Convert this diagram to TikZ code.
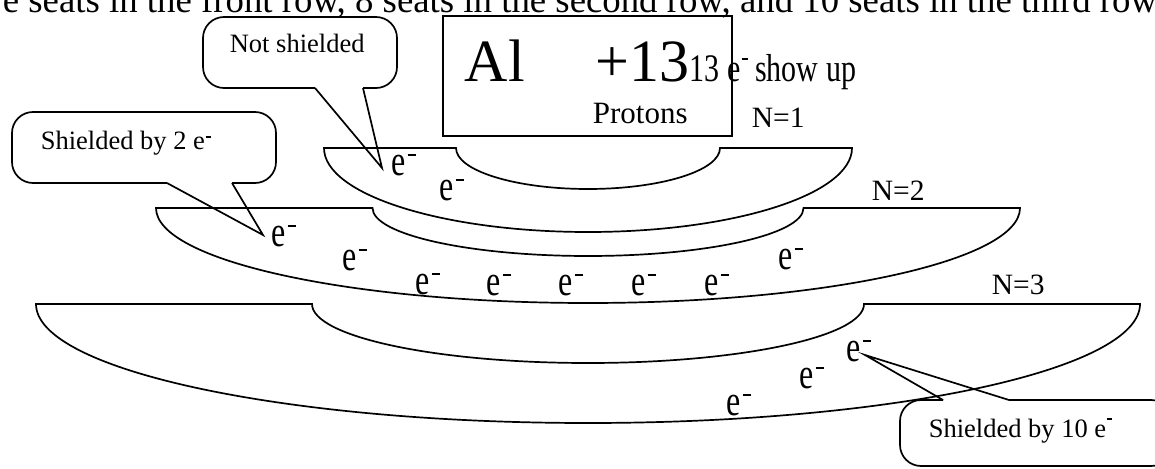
\documentclass[tikz,border=0pt]{standalone}
\usepackage{fontspec}
\setmainfont{Liberation Serif}
\usepackage{graphicx}
\newcommand\elec{\scalebox{1}[1.35]{e}\hspace{1.5pt}\rule[19pt]{8pt}{2.5pt}}
\newcommand\smallminus[1]{\hspace{0.6pt}\rule[#1]{5pt}{1.8pt}}
\begin{document}
\begin{tikzpicture}[x=1pt,y=-1pt,line width=1.7pt,line join=miter,
  electron/.style={anchor=base west,inner sep=0pt,font=\fontsize{32}{32}\selectfont},
  lbl/.style={anchor=base west,inner sep=0pt,font=\fontsize{29.5}{29.5}\selectfont},
  note/.style={anchor=base west,inner sep=0pt,font=\fontsize{26.5}{26.5}\selectfont},
  bubble/.style={draw,rounded corners=21pt},
  shell/.style={draw}]
\useasboundingbox (0,0) rectangle (1155,468);
\clip (0,0) rectangle (1155,468);

% top text line (cut off)
\node[anchor=base west,inner sep=0pt,font=\fontsize{36.8}{36.8}\selectfont] (toptext) at (2,13)
  {e seats in the front row, 8 seats in the second row, and 10 seats in the third row};

% nucleus box
\node[draw,minimum width=289pt,minimum height=120pt,inner sep=0pt] (nucleus) at (587.5,76) {};
\node[anchor=base west,inner sep=0pt,font=\fontsize{60}{60}\selectfont] (al) at (464,82) {Al};
\node[anchor=base west,inner sep=0pt,font=\fontsize{60}{60}\selectfont] (charge) at (595,82) {+13};
\node[anchor=base west,inner sep=0pt,font=\fontsize{31}{31}\selectfont] (protons) at (592,124) {Protons};
\node[anchor=base west,inner sep=0pt,font=\fontsize{30}{30}\selectfont] (showup) at (689,82)
  {\scalebox{1}[1.3]{13 e}\hspace{1pt}\rule[22pt]{6pt}{2.2pt}\scalebox{1}[1.3]{ show up}};

% shells
\draw[shell] (324,148) -- (456,148) arc[start angle=180,end angle=0,x radius=132,y radius=41]
  -- (852,148) arc[start angle=0,end angle=180,x radius=264,y radius=84] -- cycle;
\draw[shell] (156,208) -- (372.5,208) arc[start angle=180,end angle=0,x radius=215.5,y radius=48]
  -- (1020,208) arc[start angle=0,end angle=180,x radius=432,y radius=95] -- cycle;
\draw[shell] (36,304) -- (312,304) arc[start angle=180,end angle=0,x radius=276,y radius=59]
  -- (1140,304) arc[start angle=0,end angle=180,x radius=552,y radius=119] -- cycle;

% shell labels
\node[lbl] (n1) at (751,127) {N=1};
\node[lbl] (n2) at (871,200) {N=2};
\node[lbl] (n3) at (991,294) {N=3};

% electrons
\node[electron] (e1a) at (391,175) {\elec};
\node[electron] (e1b) at (439,200) {\elec};
\node[electron] (e2a) at (271,246) {\elec};
\node[electron] (e2b) at (342,270) {\elec};
\node[electron] (e2c) at (415,294) {\elec};
\node[electron] (e2d) at (486,295) {\elec};
\node[electron] (e2e) at (558,295) {\elec};
\node[electron] (e2f) at (631,295) {\elec};
\node[electron] (e2g) at (704,295) {\elec};
\node[electron] (e2h) at (778,269) {\elec};
\node[electron] (e3a) at (726,415) {\elec};
\node[electron] (e3b) at (799,388) {\elec};
\node[electron] (e3c) at (846,361) {\elec};

% callout tips
\coordinate (tip1) at (382,168);
\coordinate (tip2) at (263,235);
\coordinate (tip3) at (865,355);

% callout 1
\draw[bubble] (363,88) -- (397,88) -- (397,17) -- (203,17) -- (203,88) -- (315,88);
\draw (315,88) -- (tip1) -- (363,88);
\node[note] (c1) at (229,53) {Not shielded};

% callout 2
\draw[bubble] (232,183) -- (276,183) -- (276,112) -- (12,112) -- (12,183) -- (167,183);
\draw (167,183) -- (tip2) -- (232,183);
\node[note] (c2) at (40,149) {Shielded by 2 e\smallminus{11pt}};

% callout 3
\draw[bubble] (943,400) -- (900,400) -- (900,466) -- (1172,466) -- (1172,400) -- (1009,400);
\draw (943,400) -- (tip3) -- (1009,400);
\node[note] (c3) at (928,437) {Shielded by 10 e\smallminus{17pt}};
\end{tikzpicture}
\end{document}
